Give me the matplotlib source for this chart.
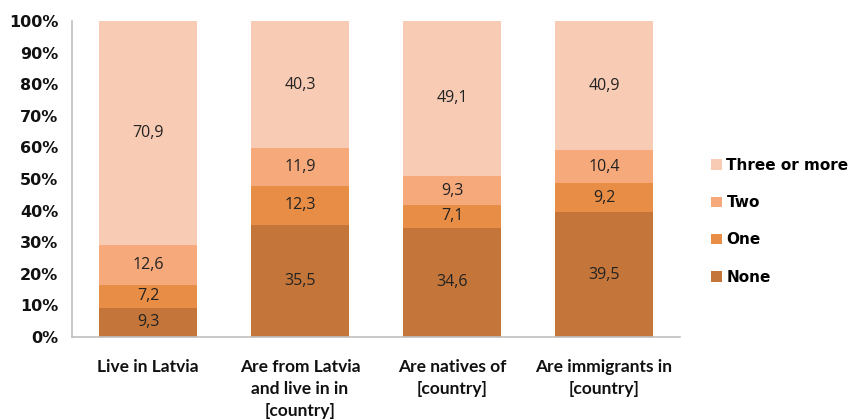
import matplotlib
matplotlib.use("Agg")
import matplotlib.pyplot as plt
import numpy as np

categories = ["Live in Latvia", "Are from Latvia\nand live in in\n[country]",
              "Are natives of\n[country]", "Are immigrants in\n[country]"]
series_names = ["None", "One", "Two", "Three or more"]
none_vals = [9.3, 35.5, 34.6, 39.5]
one_vals = [7.2, 12.3, 7.1, 9.2]
two_vals = [12.6, 11.9, 9.3, 10.4]
three_vals = [70.9, 40.3, 49.1, 40.9]
colors = ["#C4763A", "#E88D45", "#F6A97A", "#F8CBB4"]
yticks = [0, 10, 20, 30, 40, 50, 60, 70, 80, 90, 100]

W, H = 849, 420
fig = plt.figure(figsize=(W / 100, H / 100), dpi=100)
ax = fig.add_axes([72 / W, (H - 337) / H, (680 - 72) / W, (337 - 21) / H])

x = np.arange(len(categories))
bottom = np.zeros(len(categories))
handles = []
for name, vals, col in zip(series_names, [none_vals, one_vals, two_vals, three_vals], colors):
    vals = np.array(vals)
    b = ax.bar(x, vals, bottom=bottom, width=0.645, color=col, label=name, zorder=2)
    handles.append(b)
    for xi, v, bt in zip(x, vals, bottom):
        ax.text(xi, bt + v / 2, f"{v:.1f}".replace(".", ","), ha="center", va="center",
                fontsize=11.5, family="Open Sans", color="#222222", zorder=3)
    bottom += vals

ax.set_xlim(-0.5, len(categories) - 0.5)
ax.set_ylim(0, 100)
ax.set_yticks(yticks)
ax.set_yticklabels([f"{t}%" for t in yticks], family="DejaVu Sans", fontweight="bold",
                   fontsize=11.5)
ax.set_xticks(x)
ax.set_xticklabels(categories, family="Lato", fontweight="bold", fontsize=12.5,
                   linespacing=1.45, va="top")
ax.tick_params(axis="both", length=0, colors="#111111")
ax.tick_params(axis="x", pad=16)
ax.tick_params(axis="y", pad=10)
for s in ["top", "right"]:
    ax.spines[s].set_visible(False)
for s in ["left", "bottom"]:
    ax.spines[s].set_color("#BFBFBF")
    ax.spines[s].set_linewidth(1.2)

leg = fig.legend(handles[::-1], series_names[::-1], loc="upper left",
                 bbox_to_anchor=(705 / W, (H - 152) / H), frameon=False,
                 prop={"family": "DejaVu Sans", "weight": "bold", "size": 11},
                 handlelength=0.7, handleheight=0.7, handletextpad=0.3,
                 labelspacing=1.45, borderaxespad=0)

fig.savefig("out.png", dpi=100)
